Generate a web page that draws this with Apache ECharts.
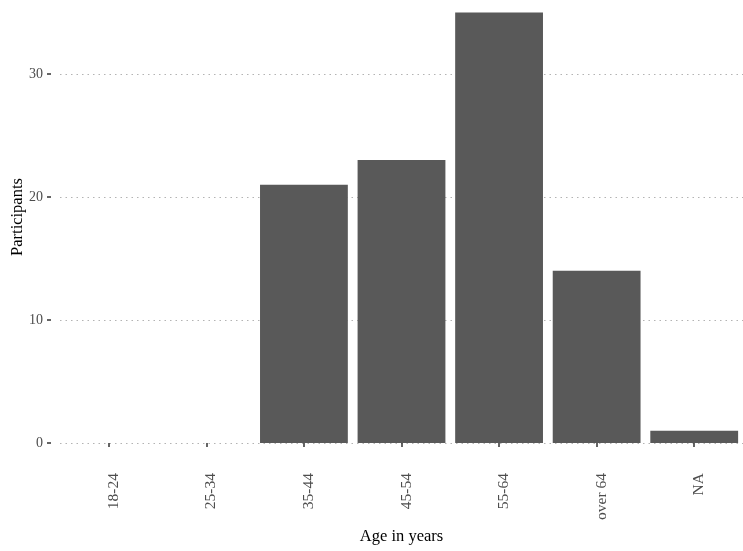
<!DOCTYPE html>
<html>
<head>
<meta charset="utf-8">
<script src="https://cdn.jsdelivr.net/npm/echarts@6/dist/echarts.min.js"></script>
<style>
html,body{margin:0;padding:0;background:#fff;}
#c{width:743px;height:551px;}
</style>
</head>
<body>
<div id="c"></div>
<script>
const categories = ["18-24", "25-34", "35-44", "45-54", "55-64", "over 64", "NA"];
const participants = [0, 0, 21, 23, 35, 14, 1];
const yTicks = [0, 10, 20, 30];

const chart = echarts.init(document.getElementById('c'), null, {renderer: 'canvas'});
const font = 'Liberation Serif';
chart.setOption({
  animation: false,
  backgroundColor: '#ffffff',
  grid: {left: 60, right: 0, top: -9, bottom: 108, containLabel: false, outerBoundsMode: 'none'},
  xAxis: {
    type: 'category',
    data: categories,
    offset: 21,
    axisLine: {show: false},
    axisTick: {show: true, alignWithLabel: true, length: 4, lineStyle: {color: '#333333', width: 1.5}},
    axisLabel: {
      rotate: 90, margin: 9, color: '#4d4d4d', fontFamily: font, fontSize: 15.5,
      formatter: function (v) { return '{a|' + v + '}'; },
      rich: {a: {color: '#4d4d4d', fontFamily: font, fontSize: 15.5, padding: [10, 0, 0, 0]}}
    },
    name: 'Age in years',
    nameLocation: 'middle',
    nameGap: 64,
    nameTextStyle: {color: '#000000', fontFamily: font, fontSize: 16.5}
  },
  yAxis: {
    type: 'value',
    min: 0,
    max: 36.75,
    interval: 10,
    offset: 9,
    axisLine: {show: false},
    axisTick: {show: true, length: 4, lineStyle: {color: '#333333', width: 1.5}},
    axisLabel: {
      margin: 8, color: '#4d4d4d', fontFamily: font, fontSize: 14,
      formatter: function (v) { return yTicks.indexOf(v) >= 0 ? String(v) : ''; }
    },
    splitLine: {show: true, lineStyle: {color: '#b3b3b3', type: [1.5, 4], width: 1.2}},
    name: 'Participants',
    nameLocation: 'middle',
    nameGap: 25,
    nameMoveOverlap: false,
    nameTextStyle: {color: '#000000', fontFamily: font, fontSize: 16.5}
  },
  series: [{
    type: 'bar',
    data: participants,
    barWidth: '90%',
    itemStyle: {color: '#595959'}
  }]
});
</script>
</body>
</html>
